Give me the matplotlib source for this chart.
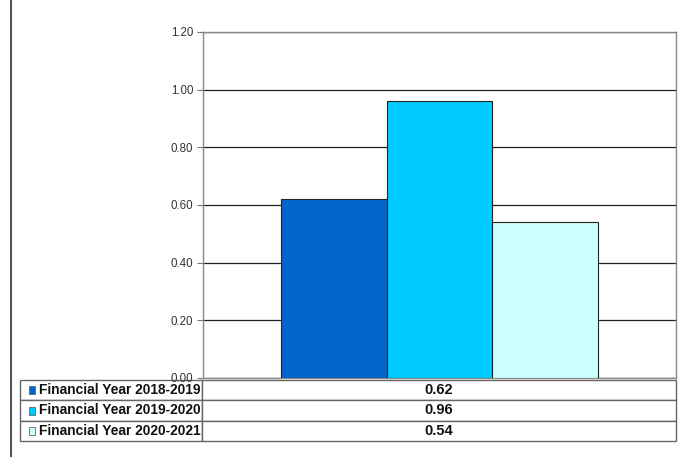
import numpy as np
import matplotlib.pyplot as plt
from matplotlib.patches import Rectangle
from matplotlib.lines import Line2D

series = ['Financial Year 2018-2019', 'Financial Year 2019-2020', 'Financial Year 2020-2021']
values = [0.62, 0.96, 0.54]
colors = ['#0066CC', '#00CCFF', '#CCFFFF']
yticks = [0.0, 0.2, 0.4, 0.6, 0.8, 1.0, 1.2]

plt.rcParams['font.family'] = ['Liberation Sans', 'DejaVu Sans']

fig = plt.figure(figsize=(6.92, 4.57), dpi=100)
ax = fig.add_axes([203/692, 1-378/457, 473/692, 346/457])

w = 0.2235
offsets = (np.arange(len(values)) - 1) * w
for off, v, c in zip(offsets, values, colors):
    ax.bar(off, v, width=w, color=c, edgecolor='#222222', linewidth=0.8, zorder=3)

ax.set_xlim(-0.5, 0.5)
ax.set_ylim(0, 1.2)
ax.set_yticks(yticks)
ax.set_yticklabels(['%.2f' % t for t in yticks], fontsize=8.3, color='#333333')
ax.set_xticks([])
ax.tick_params(axis='y', length=4, color='#777777', width=0.8, pad=3)
ax.grid(axis='y', color='#222222', linewidth=0.9, zorder=0)
for s in ['top', 'right', 'left', 'bottom']:
    ax.spines[s].set_color('#888888')
    ax.spines[s].set_linewidth(1.0)

# data table below the plot
cells = [[s, '%.2f' % v] for s, v in zip(series, values)]
tb = ax.table(cellText=cells, colWidths=[182, 474], cellLoc='center',
              bbox=[(20-203)/473, -63/346, 656/473, 61/346])
tb.auto_set_font_size(False)
for (r, c), cell in tb.get_celld().items():
    cell.set_edgecolor('#666666')
    cell.set_linewidth(1.0)
    cell.get_text().set_fontweight('bold')
    cell.get_text().set_color('#111111')
    if c == 0:
        cell.get_text().set_fontsize(9.9)
        cell.get_text().set_horizontalalignment('right')
        cell.PAD = 0.01
    else:
        cell.get_text().set_fontsize(10.5)

# legend keys in the table rows
for i, c in enumerate(colors):
    yc = 1 - (390 + i*20.5)/457
    fig.patches.append(Rectangle((29/692, yc - 4/457), 6/692, 8/457, transform=fig.transFigure,
                                 facecolor=c, edgecolor='#666666', linewidth=0.6))

fig.lines.append(Line2D([11/692, 11/692], [0, 1], transform=fig.transFigure,
                        color='#555555', linewidth=1.5))

fig.savefig('out.png', dpi=100)
